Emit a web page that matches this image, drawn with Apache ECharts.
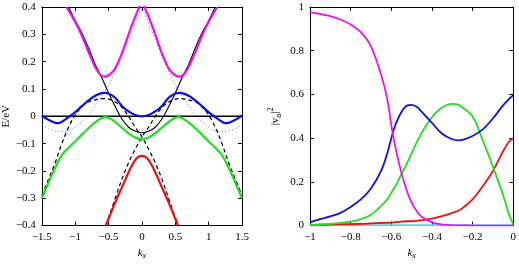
<!DOCTYPE html>
<html>
<head>
<meta charset="utf-8">
<script src="https://cdn.jsdelivr.net/npm/echarts@6/dist/echarts.min.js"></script>
<style>
  html, body { margin: 0; padding: 0; background: #fff; }
  #chart { width: 519px; height: 265px; }
</style>
</head>
<body>
<div id="chart"></div>
<script>
// ---- left panel: bands E(k) ----
const blackK = [-1.1, -1.0, -0.9, -0.8, -0.7, -0.6, -0.5, -0.4, -0.3, -0.2, -0.1, 0, 0.1, 0.2, 0.3, 0.4, 0.5, 0.6, 0.7, 0.8, 0.9, 1.0, 1.1]
const blackE = [0.4, 0.35, 0.305, 0.25, 0.19, 0.14, 0.085, 0.035, -0.01, -0.04, -0.055, -0.06, -0.055, -0.04, -0.01, 0.035, 0.085, 0.14, 0.19, 0.25, 0.305, 0.35, 0.4]

const magentaK = [-1.13, -1.0, -0.9, -0.8, -0.7, -0.65, -0.6, -0.56, -0.5, -0.45, -0.4, -0.3, -0.2, -0.1, -0.04, 0, 0.04, 0.1, 0.2, 0.3, 0.4, 0.45, 0.5, 0.56, 0.6, 0.65, 0.7, 0.8, 0.9, 1.0, 1.13]
const magentaE = [0.4, 0.345, 0.295, 0.235, 0.18, 0.16, 0.148, 0.145, 0.15, 0.16, 0.175, 0.23, 0.3, 0.365, 0.4, 0.43, 0.4, 0.365, 0.3, 0.23, 0.175, 0.16, 0.15, 0.145, 0.148, 0.16, 0.18, 0.235, 0.295, 0.345, 0.4]

const blueK = [-1.5, -1.4, -1.3, -1.25, -1.2, -1.1, -1.0, -0.9, -0.8, -0.7, -0.6, -0.55, -0.5, -0.4, -0.3, -0.2, -0.1, 0, 0.1, 0.2, 0.3, 0.4, 0.5, 0.55, 0.6, 0.7, 0.8, 0.9, 1.0, 1.1, 1.2, 1.25, 1.3, 1.4, 1.5]
const blueE = [0.003, -0.013, -0.024, -0.025, -0.02, -0.003, 0.015, 0.037, 0.058, 0.075, 0.085, 0.086, 0.083, 0.068, 0.038, 0.018, 0.005, 0.0, 0.005, 0.018, 0.038, 0.068, 0.083, 0.086, 0.085, 0.075, 0.058, 0.037, 0.015, -0.003, -0.02, -0.025, -0.024, -0.013, 0.003]

const greenK = [-1.5, -1.4, -1.3, -1.2, -1.1, -1.0, -0.9, -0.8, -0.7, -0.6, -0.55, -0.5, -0.4, -0.3, -0.2, -0.1, 0, 0.1, 0.2, 0.3, 0.4, 0.5, 0.55, 0.6, 0.7, 0.8, 0.9, 1.0, 1.1, 1.2, 1.3, 1.4, 1.5]
const greenE = [-0.3, -0.243, -0.188, -0.142, -0.115, -0.092, -0.067, -0.044, -0.022, -0.006, -0.003, -0.005, -0.02, -0.042, -0.062, -0.078, -0.085, -0.078, -0.062, -0.042, -0.02, -0.005, -0.003, -0.006, -0.022, -0.044, -0.067, -0.092, -0.115, -0.142, -0.188, -0.243, -0.3]

const redK = [-0.54, -0.5, -0.4, -0.3, -0.2, -0.15, -0.1, -0.05, 0, 0.05, 0.1, 0.15, 0.2, 0.3, 0.4, 0.5, 0.54]
const redE = [-0.4, -0.375, -0.315, -0.26, -0.205, -0.18, -0.16, -0.148, -0.145, -0.148, -0.16, -0.18, -0.205, -0.26, -0.315, -0.375, -0.4]

// dashed hole bands, one centred left, one centred right
const dashLK = [-1.5, -1.4, -1.3, -1.2, -1.1, -1.0, -0.9, -0.8, -0.7, -0.6, -0.5, -0.4, -0.3, -0.2, -0.1, 0, 0.1, 0.2, 0.3, 0.4, 0.5, 0.55]
const dashLE = [-0.29, -0.23, -0.17, -0.1, -0.04, 0.005, 0.035, 0.053, 0.06, 0.065, 0.063, 0.052, 0.033, 0.0, -0.04, -0.075, -0.12, -0.17, -0.23, -0.3, -0.37, -0.4]
const dashRK = [-0.55, -0.5, -0.4, -0.3, -0.2, -0.1, 0, 0.1, 0.2, 0.3, 0.4, 0.5, 0.6, 0.7, 0.8, 0.9, 1.0, 1.1, 1.2, 1.3, 1.4, 1.5]
const dashRE = [-0.4, -0.37, -0.3, -0.23, -0.17, -0.12, -0.075, -0.04, 0.0, 0.033, 0.052, 0.063, 0.065, 0.06, 0.053, 0.035, 0.005, -0.04, -0.1, -0.17, -0.23, -0.29]

// dotted shifted electron bands
const dotLK = [-1.5, -1.4, -1.3, -1.2, -1.1, -1.0, -0.9, -0.8, -0.7, -0.6, -0.5, -0.4, -0.3, -0.2, -0.1, 0]
const dotLE = [-0.03, -0.045, -0.053, -0.056, -0.053, -0.04, -0.02, 0.005, 0.04, 0.075, 0.115, 0.165, 0.22, 0.28, 0.34, 0.405]
const dotRK = [0, 0.1, 0.2, 0.3, 0.4, 0.5, 0.6, 0.7, 0.8, 0.9, 1.0, 1.1, 1.2, 1.3, 1.4, 1.5]
const dotRE = [0.405, 0.34, 0.28, 0.22, 0.165, 0.115, 0.075, 0.04, 0.005, -0.02, -0.04, -0.053, -0.056, -0.053, -0.045, -0.03]

const leftXTicks = [-1.5, 1.5, 0.5]   // min, max, step
const leftYTicks = [-0.4, 0.4, 0.1]

// ---- right panel: weights |v_alpha|^2 ----
const wK = [-1, -0.95, -0.9, -0.85, -0.8, -0.75, -0.7, -0.65, -0.62, -0.6, -0.58, -0.55, -0.52, -0.5, -0.47, -0.45, -0.4, -0.35, -0.3, -0.27, -0.25, -0.2, -0.15, -0.1, -0.05, -0.02, 0]
const wMagenta = [0.975, 0.968, 0.958, 0.943, 0.92, 0.885, 0.82, 0.69, 0.58, 0.46, 0.36, 0.24, 0.15, 0.105, 0.06, 0.04, 0.015, 0.006, 0.002, 0.001, 0.001, 0.0, 0.0, 0.0, 0.0, 0.0, 0.0]
const wBlue = [0.015, 0.03, 0.042, 0.058, 0.085, 0.12, 0.17, 0.25, 0.33, 0.4, 0.46, 0.52, 0.55, 0.552, 0.54, 0.52, 0.47, 0.42, 0.395, 0.39, 0.392, 0.41, 0.44, 0.49, 0.55, 0.58, 0.595]
const wGreen = [0.003, 0.005, 0.008, 0.012, 0.018, 0.03, 0.05, 0.09, 0.12, 0.15, 0.18, 0.235, 0.29, 0.33, 0.39, 0.425, 0.495, 0.54, 0.557, 0.553, 0.54, 0.5, 0.39, 0.27, 0.14, 0.05, 0.005]
const wRed = [0.003, 0.004, 0.005, 0.006, 0.007, 0.008, 0.01, 0.012, 0.013, 0.014, 0.016, 0.018, 0.02, 0.02, 0.023, 0.025, 0.032, 0.043, 0.058, 0.068, 0.08, 0.12, 0.18, 0.25, 0.34, 0.385, 0.4]
const wCyan = [0.002, 0.002, 0.002, 0.002, 0.002, 0.002, 0.002, 0.002, 0.002, 0.002, 0.002, 0.002, 0.002, 0.002, 0.002, 0.002, 0.002, 0.002, 0.002, 0.002, 0.002, 0.002, 0.002, 0.002, 0.002, 0.002, 0.002]

const rightXTicks = [-1, 0, 0.2]
const rightYTicks = [0, 1, 0.2]

const zip = (xs, ys) => xs.map((x, i) => [x, ys[i]])
const fmt = v => String(+v.toFixed(2)).replace('-', '\u2212')

const FONT = 'Liberation Serif'
const labelStyle = { color: '#000', fontFamily: FONT, fontSize: 11 }

function boxAxes(gridIndex, xt, yt, xName, yName, yGap) {
  const base = {
    gridIndex,
    axisLine: { show: true, onZero: false, lineStyle: { color: '#000', width: 1 } },
    axisTick: { show: true, inside: true, length: 4, lineStyle: { color: '#000' } },
    splitLine: { show: false }
  }
  const xs = [
    Object.assign({}, base, {
      type: 'value', position: 'bottom', min: xt[0], max: xt[1], interval: xt[2],
      axisLabel: Object.assign({ margin: 6, formatter: fmt }, labelStyle),
      name: xName, nameLocation: 'middle', nameGap: 20,
      nameTextStyle: {
        rich: {
          k: { fontFamily: FONT, fontStyle: 'italic', fontSize: 11, color: '#000' },
          s: { fontFamily: FONT, fontStyle: 'italic', fontSize: 8, color: '#000', padding: [6, 0, 0, 0] }
        }
      }
    }),
    Object.assign({}, base, {
      type: 'value', position: 'top', min: xt[0], max: xt[1], interval: xt[2],
      axisLabel: { show: false }
    })
  ]
  const ys = [
    Object.assign({}, base, {
      type: 'value', position: 'left', min: yt[0], max: yt[1], interval: yt[2],
      axisLabel: Object.assign({ margin: 6, formatter: fmt }, labelStyle),
      name: yName, nameLocation: 'middle', nameGap: yGap, nameRotate: 90,
      nameTextStyle: {
        fontFamily: FONT, fontSize: 11, color: '#000',
        rich: {
          n: { fontFamily: FONT, fontSize: 11, color: '#000' },
          sub: { fontFamily: FONT, fontSize: 8, color: '#000', padding: [7, 0, 0, 0] },
          sup: { fontFamily: FONT, fontSize: 8, color: '#000', padding: [0, 0, 8, 0] }
        }
      }
    }),
    Object.assign({}, base, {
      type: 'value', position: 'right', min: yt[0], max: yt[1], interval: yt[2],
      axisLabel: { show: false }
    })
  ]
  return { xs, ys }
}

const left = boxAxes(0, leftXTicks, leftYTicks, '{k|k}{s|x}', 'E/eV', 24)
const right = boxAxes(1, rightXTicks, rightYTicks, '{k|k}{s|x}', '{n||v}{sub|\u03b1}{n||}{sup|2}', 27)

function line(data, color, width, type, gi) {
  return {
    type: 'line', data, xAxisIndex: gi * 2, yAxisIndex: gi * 2,
    showSymbol: false, smooth: 0.35, clip: true, silent: true,
    lineStyle: { color, width, type }
  }
}

const myChart = echarts.init(document.getElementById('chart'), null, { renderer: 'canvas' })
const option = {
  animation: false,
  backgroundColor: '#fff',
  grid: [
    { left: 35, top: 7, width: 207, height: 221 },
    { left: 310, top: 7, width: 205, height: 221 }
  ],
  xAxis: left.xs.concat(right.xs),
  yAxis: left.ys.concat(right.ys),
  series: [
    line(zip(dotLK, dotLE), '#8f8fe0', 1, [1.5, 2], 0),
    line(zip(dotRK, dotRE), '#8f8fe0', 1, [1.5, 2], 0),
    line(zip(dashLK, dashLE), '#000', 1.2, [4, 3], 0),
    line(zip(dashRK, dashRE), '#000', 1.2, [4, 3], 0),
    line([[leftXTicks[0], 0], [leftXTicks[1], 0]], '#000', 1.5, 'solid', 0),
    line(zip(blackK, blackE), '#000', 1.1, 'solid', 0),
    line(zip(magentaK, magentaE), '#ee11ee', 2.2, 'solid', 0),
    line(zip(blueK, blueE), '#1010dd', 2.2, 'solid', 0),
    line(zip(greenK, greenE), '#22dd22', 2.2, 'solid', 0),
    line(zip(redK, redE), '#ee1111', 2.2, 'solid', 0),

    line(zip(wK, wCyan), '#55d5e5', 1.8, 'solid', 1),
    line(zip(wK, wRed), '#ee1111', 1.8, 'solid', 1),
    line(zip(wK, wGreen), '#22dd22', 1.8, 'solid', 1),
    line(zip(wK, wBlue), '#1010dd', 1.8, 'solid', 1),
    line(zip(wK, wMagenta), '#ee11ee', 1.8, 'solid', 1)
  ]
}
myChart.setOption(option)

window.addEventListener('resize', () => {
  myChart.resize()
})
</script>
</body>
</html>
